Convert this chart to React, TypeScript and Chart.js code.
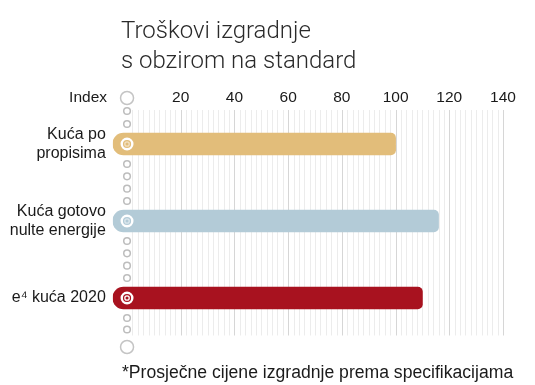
import React, { useEffect, useRef } from "react";
import { Chart, registerables } from "chart.js";

Chart.register(...registerables);

const titleLines = ["Troškovi izgradnje", "s obzirom na standard"];
const categories: (string | string[])[] = [
  ["Kuća po", "propisima"],
  ["Kuća gotovo", "nulte energije"],
  "e⁴ kuća 2020",
];
const values = [100, 116, 110];
const barColors = ["#e2bd7a", "#b3cbd7", "#a8121f"];
const tickValues = [20, 40, 60, 80, 100, 120, 140];
const axisLabel = "Index";
const footnote = "*Prosječne cijene izgradnje prema specifikacijama";

const SANS = "'Liberation Sans', Arial, sans-serif";

const decorPlugin = {
  id: "decor",
  beforeDatasetsDraw(chart: any) {
    const { ctx, chartArea, scales } = chart;
    const xs = scales.x;
    ctx.save();
    ctx.lineWidth = 1;
    for (let v = 2; v <= 140; v += 2) {
      const x = Math.round(xs.getPixelForValue(v)) + 0.5;
      ctx.strokeStyle = v % 20 === 0 ? "#d6d6d6" : "#ececec";
      ctx.beginPath();
      ctx.moveTo(x, chartArea.top + 4.5);
      ctx.lineTo(x, chartArea.bottom - 1);
      ctx.stroke();
    }
    ctx.restore();
  },
  afterDatasetsDraw(chart: any) {
    const { ctx, scales } = chart;
    const xs = scales.x;
    const ys = scales.y;
    const x0 = xs.getPixelForValue(0);
    const n = values.length;
    const centers = values.map((_, i) => ys.getPixelForValue(i));
    ctx.save();
    const small = (y: number) => {
      ctx.beginPath();
      ctx.arc(x0, y, 3.3, 0, Math.PI * 2);
      ctx.strokeStyle = "#bdbdbd";
      ctx.lineWidth = 1.5;
      ctx.stroke();
    };
    const big = (y: number) => {
      ctx.beginPath();
      ctx.arc(x0, y, 6.5, 0, Math.PI * 2);
      ctx.strokeStyle = "#c4c4c4";
      ctx.lineWidth = 1.5;
      ctx.stroke();
    };
    big(centers[0] - 46);
    small(centers[0] - 33);
    small(centers[0] - 20);
    for (let i = 0; i < n - 1; i++) {
      const gap = centers[i + 1] - centers[i];
      const a = 20;
      const b = gap - 20;
      for (let k = 0; k < 4; k++) small(centers[i] + a + ((b - a) * k) / 3);
    }
    small(centers[n - 1] + 20);
    small(centers[n - 1] + 31.5);
    big(centers[n - 1] + 49);
    centers.forEach((cy, i) => {
      ctx.beginPath();
      ctx.arc(x0, cy, 5.3, 0, Math.PI * 2);
      ctx.strokeStyle = "#ffffff";
      ctx.lineWidth = 2.4;
      ctx.stroke();
      ctx.beginPath();
      ctx.arc(x0, cy, 2.2, 0, Math.PI * 2);
      ctx.strokeStyle = i === n - 1 ? "#ffffff" : "rgba(255,255,255,0.55)";
      ctx.lineWidth = 1.3;
      ctx.stroke();
    });
    // title
    ctx.fillStyle = "#2a2a2a";
    ctx.textAlign = "left";
    ctx.textBaseline = "alphabetic";
    ctx.font = "300 24px Roboto, sans-serif";
    ctx.fillText(titleLines[0], 121, 38);
    ctx.fillText(titleLines[1], 121, 68);
    // axis label
    ctx.fillStyle = "#1a1a1a";
    ctx.font = "15.5px " + SANS;
    ctx.textAlign = "right";
    ctx.textBaseline = "middle";
    ctx.fillText(axisLabel, 107, centers[0] - 46);
    // footnote
    ctx.textAlign = "left";
    ctx.textBaseline = "alphabetic";
    ctx.font = "17.6px " + SANS;
    ctx.fillText(footnote, 122, 378);
    ctx.restore();
  },
};

export default function App() {
  const ref = useRef<HTMLCanvasElement>(null);
  useEffect(() => {
    if (!ref.current) return;
    const chart = new Chart(ref.current, {
      type: "bar",
      data: {
        labels: categories as any,
        datasets: [
          {
            data: values,
            backgroundColor: barColors,
            base: -5.3,
            barThickness: 22,
            borderSkipped: false,
            borderRadius: { topLeft: 11, bottomLeft: 11, topRight: 5, bottomRight: 5 },
          } as any,
        ],
      },
      options: {
        indexAxis: "y",
        responsive: false,
        animation: false,
        devicePixelRatio: 1,
        layout: { padding: { top: 0, left: 0, right: 32, bottom: 48.5 } },
        plugins: { legend: { display: false }, tooltip: { enabled: false }, title: { display: false } },
        scales: {
          x: {
            type: "linear",
            position: "top",
            min: -5.3,
            max: 140,
            afterBuildTicks: (scale: any) => {
              scale.ticks = tickValues.map((v) => ({ value: v }));
            },
            afterFit: (scale: any) => {
              scale.height = 105.5;
            },
            grid: { display: false },
            border: { display: false },
            ticks: {
              autoSkip: false,
              maxRotation: 0,
              padding: -10,
              color: "#1a1a1a",
              font: { family: SANS, size: 15.5 },
            },
          },
          y: {
            type: "category",
            afterFit: (scale: any) => {
              scale.width = 112.8;
            },
            grid: { display: false },
            border: { display: false },
            ticks: {
              padding: -1,
              color: "#1a1a1a",
              font: { family: SANS, size: 16, lineHeight: 1.15 },
            },
          },
        },
      },
      plugins: [decorPlugin],
    });
    return () => chart.destroy();
  }, []);
  return (
    <div style={{ position: "absolute", left: 0, top: 0, width: 535, height: 385, background: "#fff" }}>
      <canvas ref={ref} width={535} height={385} style={{ display: "block" }} />
    </div>
  );
}
